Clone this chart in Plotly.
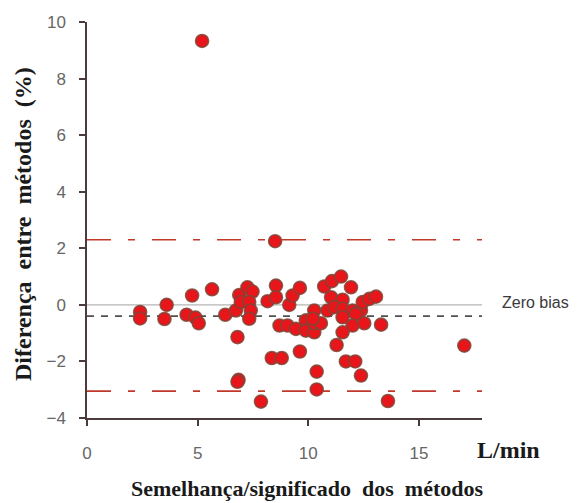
import plotly.graph_objects as go

# Bland-Altman data
x_mean = [2.4, 2.4, 3.6, 3.5, 4.75, 4.5, 4.9, 5.05, 5.2, 5.65, 6.25,
          6.73, 6.88, 6.95, 7.25, 7.48, 7.33, 7.4, 7.33, 6.8, 6.85, 6.8,
          7.86, 8.16, 8.54, 8.54, 8.5, 8.35, 8.8, 8.7, 9.06, 9.44,
          9.14, 9.29, 9.62, 9.62, 9.89, 9.89, 10.27, 10.27, 10.57, 10.27, 10.2,
          10.38, 10.38, 10.72, 11.07, 11.48, 11.93, 11.03, 11.55, 10.87, 11.18,
          11.55, 12.0, 12.38, 11.55, 12.15, 12.46, 12.76, 13.06, 12.0, 12.53,
          11.55, 13.29, 11.28, 11.7, 12.12, 12.38, 13.6, 17.05]
y_diff = [-0.25, -0.48, 0.0, -0.5, 0.33, -0.35, -0.45, -0.65, 9.33, 0.55, -0.35,
          -0.2, 0.35, 0.1, 0.62, 0.47, 0.1, -0.2, -0.49, -1.14, -2.65, -2.72,
          -3.42, 0.13, 0.68, 0.27, 2.25, -1.88, -1.88, -0.73, -0.73, -0.85,
          0.0, 0.33, 0.6, -1.65, -0.55, -0.91, -0.97, -0.65, -0.65, -0.2, -0.49,
          -2.36, -2.99, 0.65, 0.84, 1.0, 0.62, 0.27, 0.18, -0.2, -0.08,
          -0.14, -0.2, -0.2, -0.44, -0.32, 0.1, 0.21, 0.29, -0.73, -0.65,
          -0.97, -0.7, -1.42, -2.0, -2.0, -2.5, -3.4, -1.44]

zero_line = 0.0
mean_bias = -0.4
upper_loa = 2.3
lower_loa = -3.05

x_ticks = [0, 5, 10, 15]
y_ticks = [-4, -2, 0, 2, 4, 6, 8, 10]

fig = go.Figure()
fig.add_trace(go.Scatter(
    x=x_mean, y=y_diff, mode="markers",
    marker=dict(size=13, color="#e8161b",
                line=dict(color="rgba(125,70,55,0.85)", width=1.6)),
    showlegend=False, cliponaxis=False))

x_end = 17.95
line_specs = [
    (zero_line, "#b4b4b4", "solid", 1.3),
    (mean_bias, "#505050", "7px,7px", 1.6),
    (upper_loa, "#c0392b", "24px,17px,7px,17px", 1.6),
    (lower_loa, "#c0392b", "24px,17px,7px,17px", 1.6),
]
for yv, col, dash, w in line_specs:
    fig.add_shape(type="line", xref="x", yref="y", x0=0, x1=x_end, y0=yv, y1=yv,
                  line=dict(color=col, dash=dash, width=w), layer="below")

axis_common = dict(showgrid=False, zeroline=False, showline=True,
                   linecolor="#4a3c3c", linewidth=1.5, ticks="outside",
                   ticklen=6, tickcolor="#4a3c3c", tickwidth=1.5,
                   tickfont=dict(family="Liberation Sans, Arial", size=17, color="#666666"))

fig.update_xaxes(range=[0, 17.85], tickvals=x_ticks, ticklabelstandoff=13, **axis_common)
fig.update_yaxes(range=[-4, 10], tickvals=y_ticks, ticklabelstandoff=10, **axis_common)

serif_bold = dict(family="Liberation Serif, Times New Roman", size=24, color="#1a1a1a")
sp = "&nbsp;"
fig.add_annotation(text="<b>Diferença" + sp + " entre" + sp + " métodos" + sp + " (%)</b>",
                   xref="paper", yref="paper",
                   x=-0.162, y=0.49, textangle=-90, showarrow=False, font=serif_bold,
                   xanchor="center", yanchor="middle")
fig.add_annotation(text="<b>L/min</b>", xref="paper", yref="paper",
                   x=0.982, y=-0.08, showarrow=False, font=serif_bold,
                   xanchor="left", yanchor="middle")
fig.add_annotation(text="<b>Semelhança/significado" + sp + " dos" + sp + " métodos</b>",
                   xref="paper", yref="paper",
                   x=0.557, y=-0.178, showarrow=False,
                   font=dict(family="Liberation Serif, Times New Roman", size=22, color="#1a1a1a"),
                   xanchor="center", yanchor="middle")
fig.add_annotation(text="Zero bias", xref="paper", yref="y",
                   x=1.045, y=0.1, showarrow=False,
                   font=dict(family="Liberation Sans, Arial", size=16, color="#3a3a3a"),
                   xanchor="left", yanchor="middle")

fig.update_layout(width=583, height=503, margin=dict(l=87, r=101, t=22, b=85),
                  plot_bgcolor="white", paper_bgcolor="white")

fig.write_html("out.html")
